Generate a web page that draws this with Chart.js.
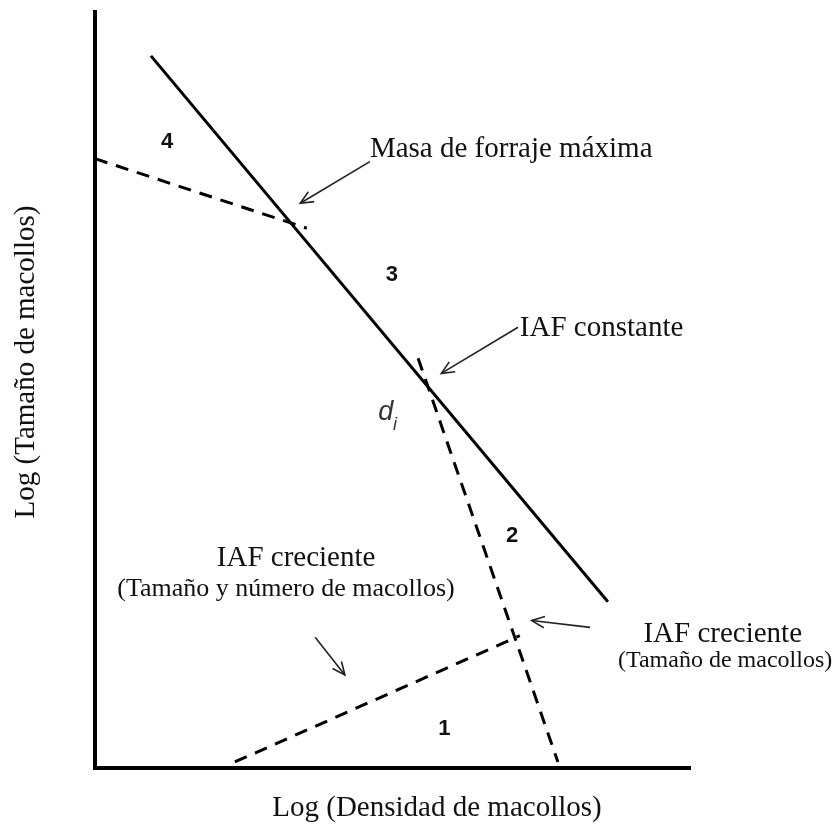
<!DOCTYPE html>
<html>
<head>
<meta charset="utf-8">
<script src="https://cdn.jsdelivr.net/npm/chart.js@4.4.1/dist/chart.umd.min.js"></script>
<style>
  html, body { margin: 0; padding: 0; background: #fff; }
  #wrap { width: 840px; height: 834px; }
</style>
</head>
<body>
<div id="wrap"><canvas id="chart" width="840" height="834"></canvas></div>
<script>
// Line endpoints, in log units (x: log density, y: log tiller size)
const solidLine = [{ x: 0.94, y: 9.42 }, { x: 8.62, y: 2.20 }];      // IAF constante
const upperDashed = [{ x: 0.00, y: 8.06 }, { x: 3.56, y: 7.14 }];    // masa máxima
const steepDashed = [{ x: 5.43, y: 5.42 }, { x: 7.78, y: 0.08 }];    // d_i
const lowDashed = [{ x: 2.35, y: 0.08 }, { x: 7.14, y: 1.75 }];      // IAF creciente

const zoneLabels = ['4', '3', '2', '1'];
const zoneX = [1.21, 4.99, 7.01, 5.87];
const zoneY = [8.28, 6.52, 3.07, 0.52];

const xTitle = 'Log (Densidad de macollos)';
const yTitle = 'Log (Tamaño de macollos)';

const serif = "'Liberation Serif', 'Times New Roman', serif";
const sans = "'Liberation Sans', Arial, sans-serif";

// text notes: [text, x, y, align, font]
const notes = [
    ['Masa de forraje máxima', 4.62, 8.08, 'left', '29px ' + serif],
    ['IAF constante', 7.14, 5.71, 'left', '29px ' + serif],
    ['IAF creciente', 3.38, 2.67, 'center', '29px ' + serif],
    ['(Tamaño y número de macollos)', 3.21, 2.28, 'center', '26px ' + serif],
    ['IAF creciente', 10.55, 1.67, 'center', '29px ' + serif],
    ['(Tamaño de macollos)', 10.59, 1.34, 'center', '24px ' + serif]
];

// arrows: [fromX, fromY, toX, toY]
const arrows = [
    [4.62, 8.02, 3.45, 7.47],
    [7.11, 5.83, 5.82, 5.22],
    [8.32, 1.86, 7.34, 1.95],
    [3.70, 1.73, 4.20, 1.23]
];

function drawArrow(ctx, x1, y1, x2, y2) {
    const ang = Math.atan2(y2 - y1, x2 - x1);
    const head = 14;
    ctx.beginPath();
    ctx.moveTo(x1, y1);
    ctx.lineTo(x2, y2);
    ctx.stroke();
    ctx.beginPath();
    ctx.moveTo(x2 - head * Math.cos(ang - 0.42), y2 - head * Math.sin(ang - 0.42));
    ctx.lineTo(x2, y2);
    ctx.lineTo(x2 - head * Math.cos(ang + 0.42), y2 - head * Math.sin(ang + 0.42));
    ctx.stroke();
}

const annotationPlugin = {
    id: 'notes',
    afterDraw(chart) {
        const ctx = chart.ctx;
        const xs = chart.scales.x, ys = chart.scales.y;
        ctx.save();
        ctx.fillStyle = '#111';
        ctx.textBaseline = 'middle';
        ctx.textAlign = 'center';
        ctx.font = 'bold 22px ' + sans;
        zoneLabels.forEach(function(t, i) {
            ctx.fillText(t, xs.getPixelForValue(zoneX[i]), ys.getPixelForValue(zoneY[i]));
        });

        ctx.textBaseline = 'alphabetic';
        notes.forEach(function(n) {
            ctx.font = n[4];
            ctx.textAlign = n[3];
            ctx.fillText(n[0], xs.getPixelForValue(n[1]), ys.getPixelForValue(n[2]));
        });

        // d_i
        ctx.fillStyle = '#333';
        ctx.textAlign = 'left';
        ctx.font = 'italic 27px ' + sans;
        ctx.fillText('d', xs.getPixelForValue(4.76), ys.getPixelForValue(4.60));
        ctx.font = 'italic 18px ' + sans;
        ctx.fillText('i', xs.getPixelForValue(5.01), ys.getPixelForValue(4.47));

        // axis titles
        ctx.fillStyle = '#111';
        ctx.font = '29px ' + serif;
        ctx.textAlign = 'center';
        ctx.fillText(xTitle, 437, 816);
        ctx.save();
        ctx.translate(34, 362);
        ctx.rotate(-Math.PI / 2);
        ctx.font = '29px ' + serif;
        ctx.fillText(yTitle, 0, 0);
        ctx.restore();

        ctx.strokeStyle = '#222';
        ctx.lineWidth = 1.6;
        arrows.forEach(function(a) {
            drawArrow(ctx, xs.getPixelForValue(a[0]), ys.getPixelForValue(a[1]),
                      xs.getPixelForValue(a[2]), ys.getPixelForValue(a[3]));
        });
        ctx.restore();
    }
};

function lineSet(data, dashed) {
    return {
        data: data,
        borderColor: '#000',
        borderWidth: 3,
        borderDash: dashed ? [13, 9] : [],
        pointRadius: 0,
        tension: 0,
        fill: false,
        clip: false
    };
}

const ctx = document.getElementById('chart').getContext('2d');
new Chart(ctx, {
    type: 'line',
    data: {
        datasets: [
            lineSet(solidLine, false),
            lineSet(upperDashed, true),
            lineSet(steepDashed, true),
            lineSet(lowDashed, true)
        ]
    },
    options: {
        responsive: false,
        animation: false,
        layout: { padding: { left: 95, right: 150, top: 12, bottom: 66 } },
        plugins: { legend: { display: false }, tooltip: { enabled: false } },
        scales: {
            x: {
                type: 'linear', min: 0, max: 10,
                grid: { display: false, drawTicks: false },
                ticks: { display: false },
                border: { display: true, color: '#000', width: 4 }
            },
            y: {
                type: 'linear', min: 0, max: 10,
                grid: { display: false, drawTicks: false },
                ticks: { display: false },
                border: { display: true, color: '#000', width: 4 }
            }
        }
    },
    plugins: [annotationPlugin]
});
</script>
</body>
</html>
